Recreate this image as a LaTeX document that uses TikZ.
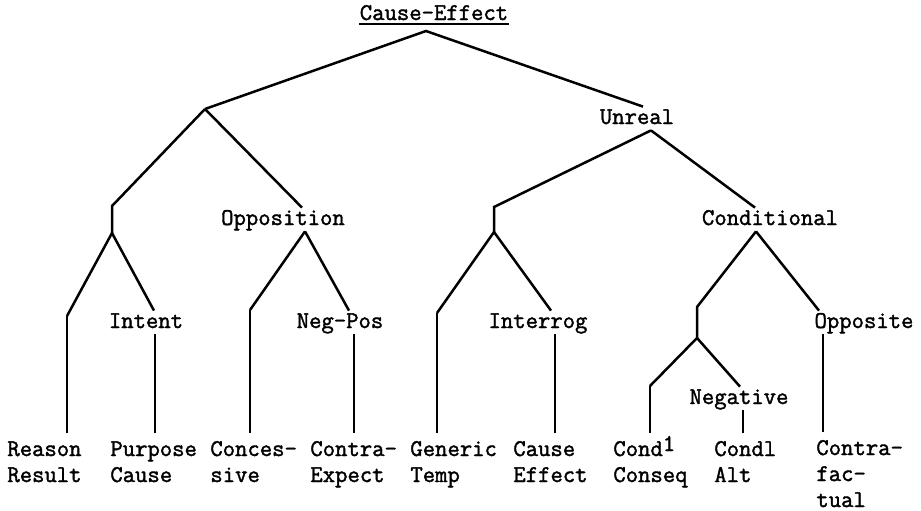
\documentclass[tikz,border=0pt]{standalone}
\usepackage{fontspec}
\setmonofont{Latin Modern Mono}[FakeBold=1.6]
\usetikzlibrary{calc}
\tikzset{
  lbl/.style={anchor=base, inner sep=1pt, text height=7.5pt, text depth=2pt},
  leaf/.style={anchor=base west, align=left, inner xsep=0pt, inner ysep=1pt},
  branch/.style={line width=1.25pt}
}
\begin{document}
\begin{tikzpicture}[x=0.5pt,y=-0.5pt,every node/.style={font=\fontsize{12}{13}\selectfont\ttfamily}]
  \useasboundingbox (0,0) rectangle (921,510);
  \node[anchor=base, inner sep=0pt] (ce) at (434,20) {Cause-Effect};
  \node[lbl] (unreal) at (637,124) {Unreal};
  \node[lbl] (opp) at (283,225) {Opposition};
  \node[lbl] (cond) at (770,225) {Conditional};
  \node[lbl] (intent) at (146,328) {Intent};
  \node[lbl] (negpos) at (340,328) {Neg-Pos};
  \node[lbl] (interrog) at (538,328) {Interrog};
  \node[lbl] (opposite) at (864,328) {Opposite};
  \node[lbl] (negative) at (739,404) {Negative};
  \foreach \i/\x/\t in {1/7/Reason\\Result,2/110/Purpose\\Cause,3/210/Conces-\\sive,
      4/310/Contra-\\Expect,5/410/Generic\\Temp,6/513/Cause\\Effect,
      7/613/Cond\smash{\raisebox{2.5pt}{1}}\\Conseq,8/714/Condl\\Alt}
    \node[leaf] (b\i) at (\x,482) {\t};
  \node[leaf] (b9) at (816,507) {Contra-\\fac-\\tual};
  \draw[line width=1pt] ($(ce.base west)+(0,4)$) -- ($(ce.base east)+(0,4)$);
  \coordinate (top) at (426,31);
  \coordinate (l1) at (205,109);
  \coordinate (l2) at (112,206);
  \coordinate (l3) at (112,233);
  \coordinate (rsn) at (67,316);
  \coordinate (cns) at (250,310);
  \coordinate (g1) at (494,207);
  \coordinate (g2) at (494,232);
  \coordinate (gen) at (437,313);
  \coordinate (k1) at (697,307);
  \coordinate (k2) at (697,338);
  \coordinate (cq) at (650,386);
  \path ($(opp.south)+(22,0)$) coordinate (oppB)
        ($(unreal.south)+(14,0)$) coordinate (unrB)
        ($(cond.south)+(-14,0)$) coordinate (condB)
        ($(intent.south)+(9,0)$) coordinate (intB)
        ($(negpos.south)+(14,0)$) coordinate (npB)
        ($(interrog.south)+(17,0)$) coordinate (irB)
        ($(negative.south)+(4,0)$) coordinate (ngB)
        ($(opposite.south)+(-41,0)$) coordinate (opB);
  \begin{scope}[branch]
    \draw (l1) -- (top) -- ($(unreal.north)+(6,0)$);
    \draw (l1) -- (l2) -- (l3);
    \draw (l1) -- ($(opp.north)+(19,0)$);
    \draw (l3) -- (rsn);
    \draw (l3) -- ($(intent.north)+(8,0)$);
    \draw (oppB) -- (cns);
    \draw (oppB) -- ($(negpos.north)+(9,0)$);
    \draw (unrB) -- (g1) -- (g2);
    \draw (unrB) -- ($(cond.north)+(-15,0)$);
    \draw (g2) -- (gen);
    \draw (g2) -- ($(interrog.north)+(13,0)$);
    \draw (condB) -- (k1) -- (k2);
    \draw (condB) -- ($(opposite.north)+(-45,0)$);
    \draw (k2) -- (cq);
    \draw (k2) -- ($(negative.north)+(1,0)$);
    \foreach \s/\b in {rsn/b1,intB/b2,cns/b3,npB/b4,gen/b5,irB/b6,cq/b7,ngB/b8,opB/b9}
      \draw (\s) -- ([yshift=3pt]\s |- \b.north);
  \end{scope}
\end{tikzpicture}
\end{document}
